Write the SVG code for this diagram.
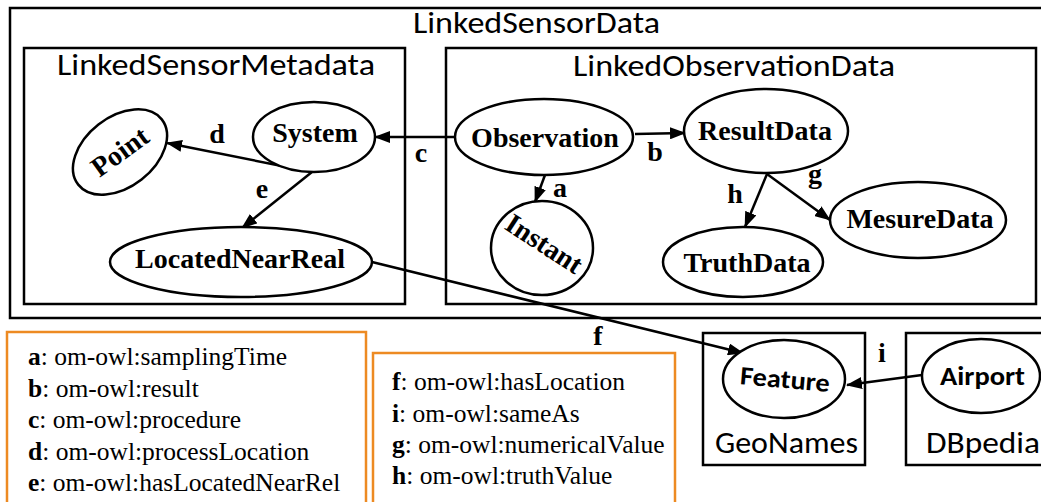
<svg xmlns="http://www.w3.org/2000/svg" width="1041" height="502" viewBox="0 0 1041 502">
<defs>
<marker id="arr" markerWidth="16" markerHeight="12" refX="15" refY="6" orient="auto" markerUnits="userSpaceOnUse">
<path d="M0,0 L16,6 L0,12 Z" fill="#000"/>
</marker>
<style>
.box{fill:none;stroke:#000;stroke-width:2.5}
.leg{fill:#fff;stroke:#ED8A22;stroke-width:2.5}
.node{fill:#fff;stroke:#000;stroke-width:2.5}
.nt{font-family:"Liberation Serif","Times New Roman",serif;font-weight:bold;font-size:28px;text-anchor:middle;fill:#000}
.st{font-family:Carlito,Lato,"Liberation Sans",sans-serif;fill:#000}
.el{font-family:"Liberation Serif","Times New Roman",serif;font-weight:bold;font-size:28px;text-anchor:middle;fill:#000}
.lt{font-family:"Liberation Serif","Times New Roman",serif;font-size:25.5px;fill:#000}
.edge{stroke:#000;stroke-width:2.5;fill:none;marker-end:url(#arr)}
</style>
</defs>
<rect width="1041" height="502" fill="#fff"/>

<g id="LinkedSensorData">
<rect class="box" x="10" y="8" width="1034" height="310"/>
<text class="st" x="413" y="33" font-size="30" textLength="247" lengthAdjust="spacingAndGlyphs">LinkedSensorData</text>
</g>
<g id="LinkedSensorMetadata">
<rect class="box" x="24" y="48" width="381" height="256"/>
<text class="st" x="57" y="75" font-size="30" textLength="318" lengthAdjust="spacingAndGlyphs">LinkedSensorMetadata</text>
</g>
<g id="LinkedObservationData">
<rect class="box" x="446" y="48" width="590" height="256"/>
<text class="st" x="573" y="76" font-size="30" textLength="322" lengthAdjust="spacingAndGlyphs">LinkedObservationData</text>
</g>
<g id="GeoNames">
<rect class="box" x="703" y="333" width="162" height="132"/>
<text class="st" x="715" y="453" font-size="30" textLength="143" lengthAdjust="spacingAndGlyphs">GeoNames</text>
</g>
<g id="DBpedia">
<rect class="box" x="906" y="333" width="140" height="132"/>
<text class="st" x="926" y="453" font-size="30" textLength="114" lengthAdjust="spacingAndGlyphs">DBpedia</text>
</g>

<g id="legend1">
<rect class="leg" x="7" y="332" width="359" height="180"/>
<text class="lt" x="28" y="365"><tspan font-weight="bold">a</tspan>: om-owl:samplingTime</text>
<text class="lt" x="28" y="397"><tspan font-weight="bold">b</tspan>: om-owl:result</text>
<text class="lt" x="28" y="428"><tspan font-weight="bold">c</tspan>: om-owl:procedure</text>
<text class="lt" x="28" y="460"><tspan font-weight="bold">d</tspan>: om-owl:processLocation</text>
<text class="lt" x="28" y="491"><tspan font-weight="bold">e</tspan>: om-owl:hasLocatedNearRel</text>
</g>
<g id="legend2">
<rect class="leg" x="373" y="353" width="302" height="160"/>
<text class="lt" x="392" y="390"><tspan font-weight="bold">f</tspan>: om-owl:hasLocation</text>
<text class="lt" x="392" y="422"><tspan font-weight="bold">i</tspan>: om-owl:sameAs</text>
<text class="lt" x="392" y="453"><tspan font-weight="bold">g</tspan>: om-owl:numericalValue</text>
<text class="lt" x="392" y="484"><tspan font-weight="bold">h</tspan>: om-owl:truthValue</text>
</g>

<g id="connectors">
<line class="edge" x1="455" y1="137" x2="375" y2="137"/>
<line class="edge" x1="312" y1="172" x2="167" y2="143"/>
<line class="edge" x1="312" y1="172" x2="242" y2="228"/>
<line class="edge" x1="545" y1="175" x2="535" y2="202"/>
<line class="edge" x1="635" y1="134" x2="685" y2="133"/>
<line class="edge" x1="767" y1="174" x2="745" y2="227"/>
<line class="edge" x1="767" y1="174" x2="830" y2="220"/>
<line class="edge" x1="372" y1="262" x2="743" y2="353"/>
<line class="edge" x1="922" y1="375" x2="847" y2="385"/>
<text class="el" x="421" y="162">c</text>
<text class="el" x="217" y="143">d</text>
<text class="el" x="262" y="198">e</text>
<text class="el" x="560" y="197">a</text>
<text class="el" x="655" y="161">b</text>
<text class="el" x="735" y="203">h</text>
<text class="el" x="815" y="183">g</text>
<text class="el" x="598" y="345">f</text>
<text class="el" x="882" y="362">i</text>
</g>

<g id="Point">
<ellipse class="node" cx="120" cy="152" rx="53" ry="35" transform="rotate(-38 120 152)"/>
<text class="nt" transform="translate(120,152) rotate(-36)" x="0" y="9">Point</text>
</g>
<g id="System">
<ellipse class="node" cx="314" cy="137" rx="61" ry="35"/>
<text class="nt" x="315" y="142">System</text>
</g>
<g id="LocatedNearReal">
<ellipse class="node" cx="241" cy="262" rx="131" ry="35"/>
<text class="nt" x="240" y="268">LocatedNearReal</text>
</g>
<g id="Observation">
<ellipse class="node" cx="544" cy="137" rx="89" ry="38"/>
<text class="nt" x="545" y="147">Observation</text>
</g>
<g id="ResultData">
<ellipse class="node" cx="766" cy="131" rx="82" ry="42"/>
<text class="nt" x="765" y="140">ResultData</text>
</g>
<g id="Instant">
<ellipse class="node" cx="542" cy="248" rx="51" ry="47"/>
<text class="nt" transform="translate(544,244) rotate(33)" x="0" y="9">Instant</text>
</g>
<g id="TruthData">
<ellipse class="node" cx="743" cy="262" rx="80" ry="35"/>
<text class="nt" x="747" y="272">TruthData</text>
</g>
<g id="MesureData">
<ellipse class="node" cx="918" cy="220" rx="88" ry="38"/>
<text class="nt" x="920" y="228">MesureData</text>
</g>
<g id="Feature">
<ellipse class="node" cx="784" cy="379" rx="61" ry="39"/>
<text class="st" transform="translate(785,380) rotate(5)" x="-45" y="8" font-size="26" font-weight="bold" textLength="90" lengthAdjust="spacingAndGlyphs">Feature</text>
</g>
<g id="Airport">
<ellipse class="node" cx="981" cy="376" rx="59" ry="37"/>
<text class="st" x="940" y="385" font-size="26" font-weight="bold" textLength="85" lengthAdjust="spacingAndGlyphs">Airport</text>
</g>
</svg>
